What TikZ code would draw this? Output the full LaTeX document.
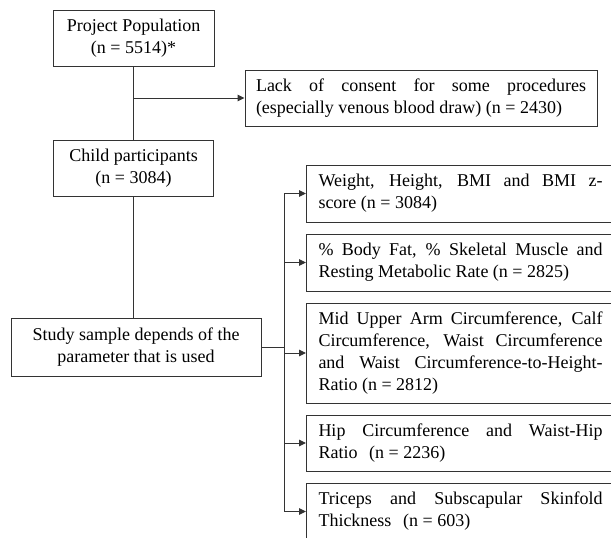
\documentclass[tikz,border=0pt]{standalone}
\usepackage{fontspec}
\setmainfont{Liberation Serif}
\usetikzlibrary{arrows.meta}
\newcommand\jl[2]{\makebox[#1][s]{\spaceskip=0.25em plus 10em\relax #2}}
\begin{document}
\begin{tikzpicture}[x=1pt,y=-1pt,
  box/.style={draw=black!80, line width=1pt, font=\fontsize{18}{22}\selectfont, inner sep=0pt},
  cbox/.style={box, align=flush center},
  rbox/.style={box, anchor=west, text width=284pt, align=flush left, inner xsep=12pt},
  ln/.style={draw=black!80, line width=1pt},
  arr/.style={ln, -{Triangle[length=7pt,width=6.5pt]}}]
\useasboundingbox (0,0) rectangle (611,538);
\clip (0,0) rectangle (611,538);
\node[cbox, minimum width=161pt, minimum height=56pt] (proj) at (133.5,38) {Project Population\\(n = 5514)*};
\node[box, text width=330pt, align=flush left, inner xsep=11pt, minimum height=56pt] (lack) at (421,98)
  {\jl{330pt}{Lack of consent for some procedures}\\(especially venous blood draw) (n = 2430)};
\node[cbox, minimum width=160pt, minimum height=56pt] (child) at (133.5,168) {Child participants\\(n = 3084)};
\node[cbox, minimum width=250pt, minimum height=58pt] (study) at (136,347) {Study sample depends of the\\parameter that is used};
\node[rbox, minimum height=57pt] (b1) at (306,193.5)
  {\jl{284pt}{Weight, Height, BMI and BMI z-}\\score (n = 3084)};
\node[rbox, minimum height=57pt] (b2) at (306,262.5)
  {\jl{284pt}{\% Body Fat, \% Skeletal Muscle and}\\Resting Metabolic Rate (n = 2825)};
\node[rbox, minimum height=100pt] (b3) at (306,353)
  {\jl{284pt}{Mid Upper Arm Circumference, Calf}\\\jl{284pt}{Circumference, Waist Circumference}\\\jl{284pt}{and Waist Circumference-to-Height-}\\Ratio (n = 2812)};
\node[rbox, minimum height=56pt] (b4) at (306,443)
  {\jl{284pt}{Hip Circumference and Waist-Hip}\\Ratio\hspace{0.4em} (n = 2236)};
\node[rbox, minimum height=57pt] (b5) at (306,511.5)
  {\jl{284pt}{Triceps and Subscapular Skinfold}\\Thickness\hspace{0.4em} (n = 603)};
\draw[ln] (proj.south) -- (proj.south |- child.north);
\draw[arr] (proj.south |- lack.west) -- (lack.west);
\draw[ln] (child.south) -- (child.south |- study.north);
\coordinate (bus) at (284,0);
\draw[ln] (study.east) -- (study.east -| bus);
\draw[ln] (bus |- b1.west) -- (bus |- b5.west);
\foreach \b in {b1,b2,b3,b4,b5} \draw[arr] (bus |- \b.west) -- (\b.west);
\end{tikzpicture}
\end{document}
